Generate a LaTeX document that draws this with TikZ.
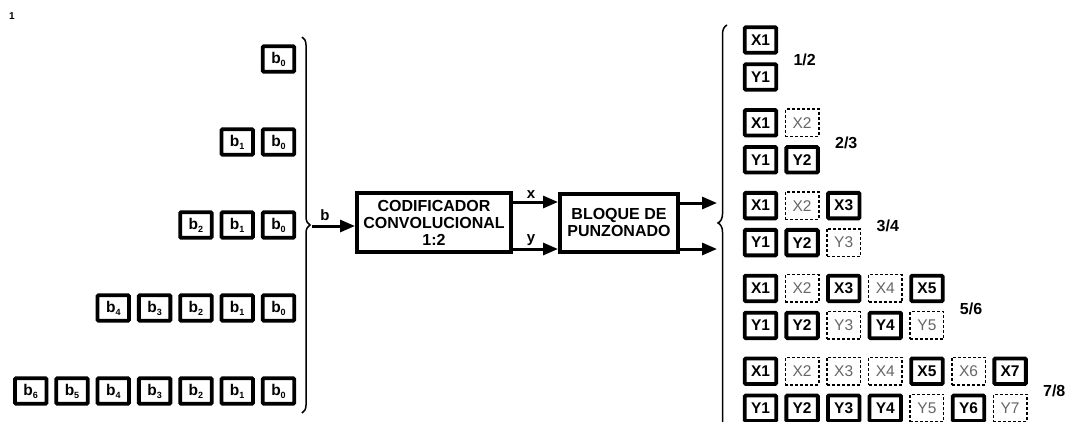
\documentclass[tikz,border=0pt]{standalone}
\usepackage{fontspec}
\setmainfont{Liberation Sans}
\usetikzlibrary{arrows.meta}
\usetikzlibrary{decorations.pathreplacing}

\tikzset{
  bitbox/.style={draw, line width=3.8pt, rounded corners=1pt, minimum width=31.5pt, minimum height=25.5pt, inner sep=0pt, font=\fontsize{15.5}{15.5}\selectfont\bfseries},
  holebox/.style={draw, dash pattern=on 3pt off 2pt, line width=1.5pt, minimum width=33.5pt, minimum height=27.5pt, inner sep=0pt, text=black!60, font=\fontsize{15.5}{15.5}\selectfont},
  kind1/.style={bitbox},
  kind0/.style={holebox},
  block/.style={draw, line width=4pt, align=center, inner sep=0pt, font=\fontsize{16}{17}\selectfont\bfseries},
  flow/.style={line width=3pt, -{Triangle[length=15pt,width=12pt]}},
  rate/.style={anchor=west, font=\fontsize{16}{16}\selectfont\bfseries},
  tag/.style={font=\fontsize{15}{15}\selectfont\bfseries},
  curly/.style={line width=1.5pt, decorate},
}

\begin{document}
\begin{tikzpicture}[x=1pt,y=-1pt]
\useasboundingbox (0,0) rectangle (1070,421);

\node[font=\fontsize{10}{10}\selectfont\bfseries] (mark) at (12,16) {1};

% input blocks b_i
\foreach \r/\n in {1/0,2/1,3/2,4/4,5/6}{
  \foreach \i in {0,...,\n}{
    \node[bitbox] (b\r-\i) at ({278.5-41.3*\i},{59+83*(\r-1)}) {b\raisebox{-3pt}{\fontsize{9}{9}\selectfont\i}};
  }
}
\draw[curly, decoration={brace,amplitude=8pt}] (302,37) -- (302,413);

% encoder and puncturing
\coordinate (bin) at (312,226);
\node[block, minimum width=154pt, minimum height=59pt] (coder) at (434,222.5) {CODIFICADOR\\CONVOLUCIONAL\\1:2};
\node[block, minimum width=118pt, minimum height=58pt] (punz) at (619,222.5) {BLOQUE DE\\PUNZONADO};

\draw[flow] (bin) -- (coder.west |- bin) node[tag, pos=0.3, above=1pt] (blab) {b};
\draw[flow] ([yshift=20.5pt]coder.east) -- ([yshift=20.5pt]punz.west) node[tag, pos=0.4, above=-1pt] (xlab) {x};
\draw[flow] ([yshift=-26.5pt]coder.east) -- ([yshift=-26.5pt]punz.west) node[tag, pos=0.4, above=-1pt] (ylab) {y};

\coordinate (out1) at (717,203);
\coordinate (out2) at (717,249);
\draw[flow] (punz.east |- out1) -- (out1);
\draw[flow] (punz.east |- out2) -- (out2);

\draw[curly, decoration={brace,amplitude=9pt,aspect=0.523}] (727,440) -- (727,25);

% puncturing patterns
\foreach \g/\n/\xs/\ys in {1/1/{1}/{1}, 2/2/{1,0}/{1,1}, 3/3/{1,0,1}/{1,1,0}, 4/5/{1,0,1,0,1}/{1,1,0,1,0}, 5/7/{1,0,0,0,1,0,1}/{1,1,1,1,0,1,0}}{
  \foreach \s [count=\i] in \xs
    \node[kind\s] (x\g-\i) at ({760.5+41.6*(\i-1)},{40+82.8*(\g-1)}) {X\i};
  \foreach \s [count=\i] in \ys
    \node[kind\s] (y\g-\i) at ({760.5+41.6*(\i-1)},{77+82.8*(\g-1)}) {Y\i};
  \node[rate] (rate\g) at ({778+41.6*(\n-1)+12},{60+82.8*(\g-1)}) {\n/\the\numexpr\n+1\relax};
}

\end{tikzpicture}
\end{document}
